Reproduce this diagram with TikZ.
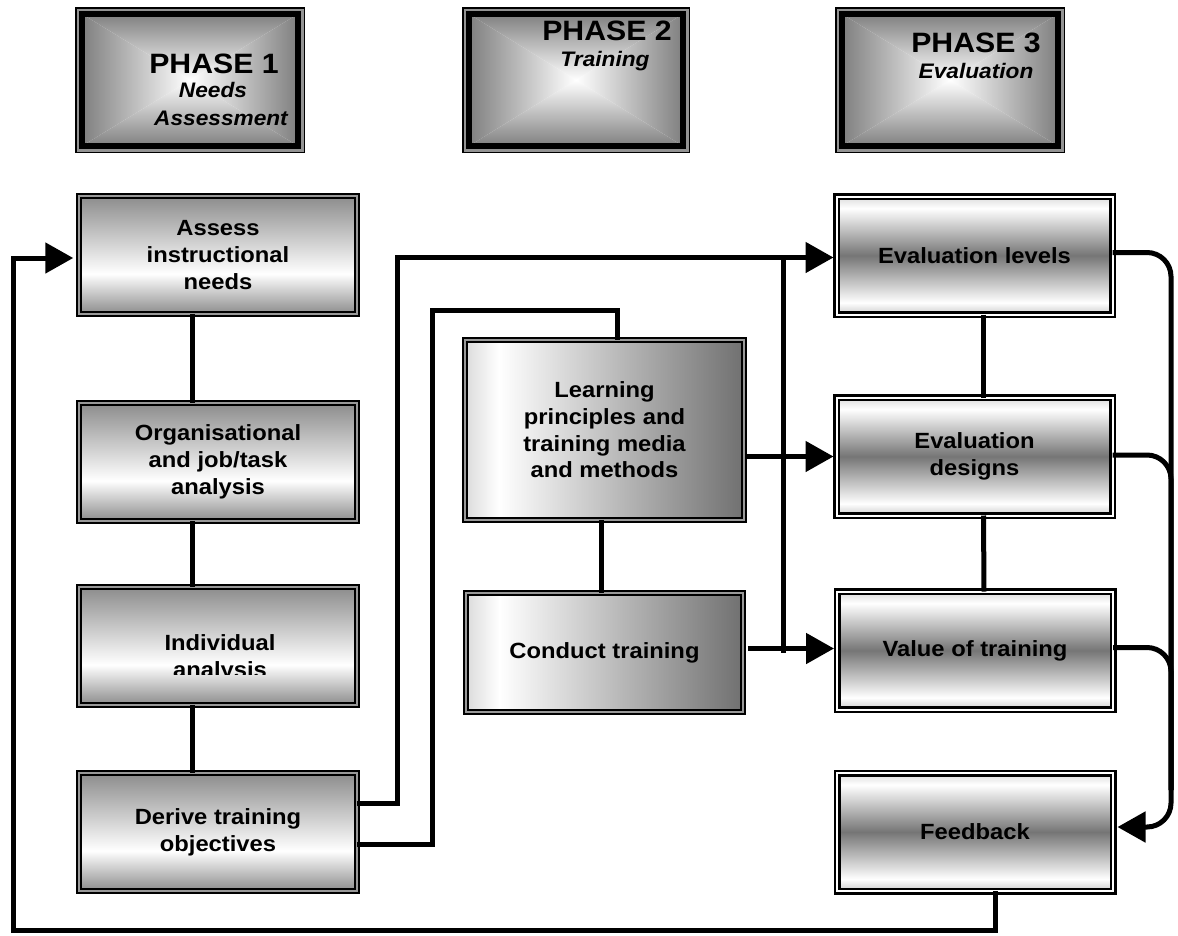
\documentclass[tikz,border=0pt]{standalone}
\usepackage{fontspec}
\setmainfont{Liberation Sans}[FakeStretch=1.08]
\usetikzlibrary{arrows.meta,calc}

\definecolor{edgegray}{gray}{0.5}
\definecolor{gA}{gray}{0.55}
\definecolor{gB}{gray}{0.46}
\definecolor{gL}{gray}{0.86}
\definecolor{gM}{gray}{0.80}
\definecolor{gD}{gray}{0.44}
\definecolor{gBorder}{gray}{0.6}

\pgfdeclareverticalshading{pone}{100bp}{color(0bp)=(gA); color(25bp)=(gA); color(42bp)=(white); color(75bp)=(gA); color(100bp)=(gA)}
\pgfdeclareverticalshading{pthree}{100bp}{color(0bp)=(gM); color(25bp)=(gM); color(30bp)=(white); color(50bp)=(gB); color(70bp)=(white); color(75bp)=(gL); color(100bp)=(gL)}
\pgfdeclarehorizontalshading{ptwo}{100bp}{color(0bp)=(gL); color(25bp)=(gL); color(31bp)=(white); color(75bp)=(gD); color(100bp)=(gD)}

\newcommand\bodyfont{\fontsize{22}{26.7}\selectfont\bfseries}
\newcommand\phtitlefont{\fontsize{28}{30}\selectfont\bfseries}
\newcommand\phsubfont{\fontsize{21}{26}\selectfont\bfseries\itshape}

\newcommand\phasedeco[1]{%
 \shade[top color=edgegray,bottom color=white] (#1.north west) -- (#1.north east) -- (#1.center) -- cycle;
 \shade[top color=white,bottom color=edgegray] (#1.south west) -- (#1.south east) -- (#1.center) -- cycle;
 \shade[left color=edgegray,right color=white] (#1.north west) -- (#1.south west) -- (#1.center) -- cycle;
 \shade[left color=white,right color=edgegray] (#1.north east) -- (#1.south east) -- (#1.center) -- cycle;
 \draw[line width=6pt] (#1.north west) rectangle (#1.south east);
 \draw[gray!85, line width=2.5pt] ([shift={(-4.25pt,4.25pt)}]#1.north west) rectangle ([shift={(4.25pt,-4.25pt)}]#1.south east);
 \draw[line width=1.5pt] ([shift={(-6.25pt,6.25pt)}]#1.north west) rectangle ([shift={(6.25pt,-6.25pt)}]#1.south east);
}

\tikzset{
 conn/.style={line width=5pt, black},
 arr/.style={-{Triangle[length=28pt,width=30pt]}},
 phasenode/.style={minimum height=132pt, inner sep=0pt, outer sep=0pt},
 phT/.style={font=\phtitlefont, inner sep=0pt},
 phS/.style={font=\phsubfont, inner sep=0pt},
 basebox/.style={draw=black, line width=2.3pt, double distance=1.6pt, inner sep=0pt, outer sep=0pt, align=center, font=\bodyfont},
 boxone/.style={basebox, double=gBorder, shade, shading=pone, minimum width=277.5pt, minimum height=117.5pt},
 boxtwo/.style={basebox, double=gBorder, shade, shading=ptwo},
 boxthree/.style={basebox, line width=2.5pt, double=white, double distance=2pt, shade, shading=pthree, minimum width=276pt, minimum height=118pt},
}

\begin{document}
\begin{tikzpicture}[x=1pt,y=-1pt]
\useasboundingbox (0,0) rectangle (1178,935);
\fill[white] (0,0) rectangle (1178,935);

% phase headers
\path node[phasenode, minimum width=216pt] (p1) at (190,80) {};
\path node[phasenode, minimum width=214pt] (p2) at (576,80) {};
\path node[phasenode, minimum width=216pt] (p3) at (950,80) {};
\phasedeco{p1}
\phasedeco{p2}
\phasedeco{p3}
\node[phT, anchor=base] (p1t) at (214,73) {PHASE 1};
\node[phS, anchor=base] (p1s) at (213,97) {Needs};
\node[phS, anchor=base] (p1u) at (221,125) {Assessment};
\node[phT, anchor=base] (p2t) at (607,40) {PHASE 2};
\node[phS, anchor=base] (p2s) at (605,66) {Training};
\node[phT, anchor=base] (p3t) at (976,52) {PHASE 3};
\node[phS, anchor=base] (p3s) at (976,78) {Evaluation};

% phase 1 column
\node[boxone] (as) at (218,255) {Assess\\instructional\\needs};
\node[boxone] (org) at (218,462) {Organisational\\and job/task\\analysis};
\node[boxone] (ind) at (218,646) {};
\begin{scope}
 \clip ([xshift=3pt]ind.north west) rectangle ([xshift=-3pt,yshift=-28pt]ind.east);
 \node[font=\bodyfont, align=center, inner sep=0pt] (indtext) at (220,658.5) {Individual\\analysis};
\end{scope}
\node[boxone] (der) at (218,832) {Derive training\\objectives};

% phase 2 column
\node[boxtwo, minimum width=278.5pt, minimum height=179.5pt] (lp) at (604.5,430) {Learning\\principles and\\training media\\and methods};
\node[boxtwo, minimum width=276.5pt, minimum height=118.5pt] (ct) at (604.5,652.5) {Conduct training};

% phase 3 column
\node[boxthree] (el) at (974.5,255.5) {Evaluation levels};
\node[boxthree] (ed) at (974.5,456.5) {Evaluation\\designs};
\node[boxthree] (vt) at (975,650.5) {Value of training};
\node[boxthree] (fb) at (975,832) {Feedback};

% vertical links
\draw[conn] ([xshift=-26pt]as.south) -- ([xshift=-26pt]org.north);
\draw[conn] ([xshift=-26pt]org.south) -- ([xshift=-26pt]ind.north);
\draw[conn] ([xshift=-26pt]ind.south) -- ([xshift=-26pt]der.north);
\draw[conn] ([xshift=-3pt]lp.south) -- ([xshift=-3pt]ct.north);
\draw[conn] ([xshift=9pt]el.south) -- ([xshift=9pt]ed.north);
\draw[conn] ([xshift=9pt]ed.south) -- ([xshift=9pt]vt.north);

% derive -> evaluation levels, with branch
\draw[conn,arr,shorten >=3pt] ([yshift=29pt]der.east) -- ++(41,0) |- ([yshift=-2pt]el.west);
\draw[conn] ([xshift=-53.5pt,yshift=-2pt]el.west) -- ++(0,395);
% derive -> learning
\draw[conn] ([yshift=-12pt]der.east) -- ++(76,0) -- ++(0,-534) -| ([xshift=12.5pt]lp.north);
% learning -> designs, conduct -> value
\draw[conn,arr,shorten >=3pt,shorten <=3pt] (lp.east |- ed.west) -- (ed.west);
\draw[conn,arr,shorten >=3pt,shorten <=5pt] ([yshift=2pt]ct.east |- vt.west) -- ([yshift=2pt]vt.west);

% right side to feedback
\coordinate (rx) at (1171,827);
\coordinate (ry) at (1171,790);
\draw[conn,arr,rounded corners=24pt,shorten >=4.5pt] ([yshift=3pt]el.east) -| (rx) -- (rx -| fb.east);
\draw[conn,rounded corners=24pt] ([yshift=1.5pt]ed.east) -| (ry);
\draw[conn,rounded corners=24pt] ([yshift=3pt]vt.east) -| (ry);

% feedback -> assess
\draw[conn,arr,shorten >=6pt] ([xshift=20pt]fb.south) -- ++(0,39) -| ([xshift=-66pt,yshift=-3pt]as.west) -- ([yshift=-3pt]as.west);
\end{tikzpicture}
\end{document}
